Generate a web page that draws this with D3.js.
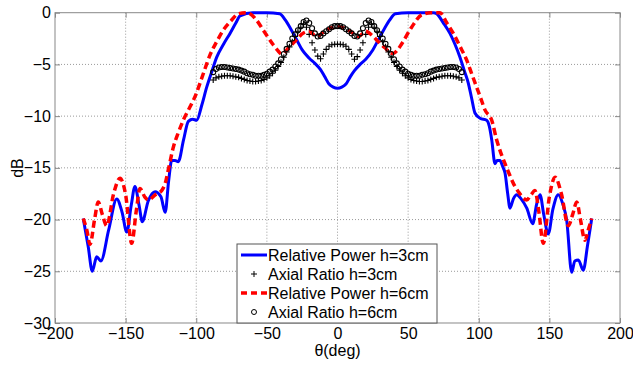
<!DOCTYPE html>
<html>
<head>
<meta charset="utf-8">
<script src="https://cdn.jsdelivr.net/npm/d3@7"></script>
<style>
  body { margin: 0; background: #fff; }
  svg text { font-family: "Liberation Sans", Arial, sans-serif; }
</style>
</head>
<body>
<script>
// values (theta in deg, level in dB)
var xTicks = [-200, -150, -100, -50, 0, 50, 100, 150, 200];
var yTicks = [0, -5, -10, -15, -20, -25, -30];

var seriesNames = ['Relative Power h=3cm', 'Axial Ratio h=3cm', 'Relative Power h=6cm', 'Axial Ratio h=6cm'];

var power3Theta = [-180, -176.5, -173.6, -170.5, -167.5, -162, -156.3, -152.5, -149.2, -146, -143.4, -140.5, -138.2, -134, -129.2, -125, -122, -119.5, -117.4, -115, -112.7, -109, -105.6, -102.5, -99.7, -96, -92.6, -89, -85.5, -80.5, -76.1, -72, -69, -60, -50, -41, -37, -33, -29, -25, -20, -16, -12, -9, -6, -3, 0,
  3, 6, 9, 12, 16, 20, 25, 29, 33, 37, 41, 50, 60, 68, 70.2, 75, 79.6, 83, 86.7, 90, 92.6, 95, 97.3, 100.9, 105.6, 107.5, 109.2, 111.5, 113, 115, 117, 118.6, 120.5, 122.1, 124.5, 126.9, 130, 134, 138.2, 141, 143.4, 146, 149.2, 152.5, 156.3, 159.5, 162.3, 165.8, 168, 170.5, 174, 177, 180];
var power3 = [-19.9, -22.6, -25.0, -23.6, -24.0, -21.0, -18.0, -19.3, -21.2, -18.6, -16.8, -18.6, -20.2, -18.2, -17.3, -17.8, -19.3, -16.2, -14.3, -14.3, -14.4, -12.3, -10.5, -10.3, -10.4, -8.9, -7.2, -5.7, -4.3, -3.0, -2.0, -1.0, -0.3, 0, 0, -0.1, -0.7, -1.6, -2.6, -3.6, -4.4, -4.9, -5.5, -6.2, -6.9, -7.2, -7.3,
  -7.2, -6.9, -6.2, -5.6, -5.0, -4.5, -3.6, -2.6, -1.6, -0.7, -0.1, 0, 0, 0, -0.1, -1.0, -2.0, -3.0, -4.3, -5.7, -6.8, -8.3, -9.7, -10.2, -10.4, -11.0, -12.3, -14.6, -14.3, -14.3, -14.9, -15.5, -17.5, -18.9, -18.0, -17.6, -18.0, -18.9, -20.4, -18.5, -17.6, -19.5, -21.4, -19.0, -17.6, -18.5, -20.1, -25.1, -24.0, -23.9, -24.9, -22.5, -19.9];

var power6Theta = [-180, -177.5, -175.2, -172, -169.4, -166.5, -163.4, -158.5, -154, -150, -145.7, -142.5, -139.8, -136.5, -134, -129, -124.5, -122, -119.8, -116.2, -112.7, -109.2, -104.4, -100.5, -97.3, -93.5, -90.3, -85.5, -80.9, -75.5, -70.2, -64.3, -58, -52.5, -45.5, -42, -39.5, -36, -32.5, -28.9, -24.5, -20, -15, -10, -5, 0,
  5, 10, 15, 20, 24.5, 28.9, 33.6, 36.5, 39.5, 42.5, 45.5, 52.5, 59.6, 66, 72.6, 77, 82, 86.5, 91.5, 95, 98.5, 101.5, 104.4, 109.2, 112.7, 115.5, 118.6, 121, 124.5, 128, 134, 137, 139.8, 142.5, 145.7, 150, 154, 158.5, 163.4, 166.5, 169.4, 172, 175.2, 177.5, 180];
var power6 = [-19.9, -21.0, -22.4, -20.0, -18.3, -19.5, -20.6, -17.5, -16.0, -17.6, -22.3, -19.2, -17.0, -17.8, -18.1, -17.6, -17.2, -16.5, -15.2, -13.0, -11.6, -10.4, -9.1, -8.0, -6.8, -5.3, -4.1, -2.8, -1.7, -0.8, -0.1, 0, -0.6, -1.7, -3.1, -3.7, -4.0, -3.6, -3.1, -2.6, -2.0, -1.8, -2.3, -1.9, -1.5, -1.35,
  -1.5, -1.9, -2.3, -1.8, -2.2, -2.8, -3.4, -3.8, -3.95, -3.6, -3.0, -1.4, -0.2, 0, 0, -0.9, -2.0, -3.2, -4.6, -5.9, -7.2, -8.3, -9.4, -10.4, -12.3, -13.5, -14.6, -15.4, -16.5, -17.3, -18.1, -17.6, -17.2, -19.2, -22.3, -17.8, -15.9, -17.5, -20.6, -19.5, -18.3, -20.0, -22.0, -21.0, -19.9];

var axialTheta = [-88, -86, -84, -82, -80, -78, -76, -74, -72, -70, -68, -66, -64, -62, -60, -58, -56, -54, -52, -50, -48, -46, -44, -42, -40, -38, -36, -34, -32, -30, -28, -26, -24, -22, -20, -18, -16, -14, -12, -10, -8, -6, -4, -2, 0,
  2, 4, 6, 8, 10, 12, 14, 16, 18, 20, 22, 24, 26, 28, 30, 32, 34, 36, 38, 40, 42, 44, 46, 48, 50, 52, 54, 56, 58, 60, 62, 64, 66, 68, 70, 72, 74, 76, 78, 80, 82, 84, 86, 88];
var axial3 = [-6.5, -6.3, -6.2, -6.15, -6.1, -6.1, -6.1, -6.15, -6.2, -6.25, -6.35, -6.45, -6.55, -6.6, -6.65, -6.65, -6.6, -6.55, -6.45, -6.3, -6.1, -5.85, -5.55, -5.2, -4.8, -4.3, -3.8, -3.3, -2.8, -2.3, -1.8, -1.4, -1.1, -1.4, -2.1, -2.9, -3.6, -4.2, -4.45, -4.0, -3.55, -3.25, -3.1, -3.05, -3.05,
  -3.05, -3.1, -3.25, -3.55, -4.0, -4.5, -4.25, -3.6, -2.9, -2.1, -1.4, -1.1, -1.4, -1.8, -2.3, -2.8, -3.3, -3.8, -4.3, -4.8, -5.2, -5.55, -5.85, -6.1, -6.3, -6.45, -6.55, -6.6, -6.65, -6.65, -6.6, -6.55, -6.45, -6.35, -6.25, -6.2, -6.15, -6.1, -6.1, -6.1, -6.15, -6.2, -6.3, -6.5];
var axial6 = [-5.75, -5.45, -5.3, -5.25, -5.25, -5.3, -5.35, -5.4, -5.45, -5.5, -5.6, -5.7, -5.85, -5.95, -6.0, -6.1, -6.1, -6.1, -6.0, -5.9, -5.7, -5.5, -5.2, -4.9, -4.5, -4.0, -3.5, -3.0, -2.5, -2.1, -1.7, -1.3, -0.9, -0.75, -1.0, -1.5, -2.0, -2.3, -2.25, -2.0, -1.8, -1.6, -1.4, -1.3, -1.3,
  -1.3, -1.4, -1.6, -1.8, -2.0, -2.25, -2.3, -2.0, -1.5, -1.0, -0.75, -0.9, -1.3, -1.7, -2.1, -2.5, -3.0, -3.5, -4.0, -4.5, -4.9, -5.2, -5.5, -5.7, -5.9, -6.0, -6.1, -6.1, -6.1, -6.0, -5.95, -5.85, -5.7, -5.6, -5.5, -5.45, -5.4, -5.35, -5.3, -5.25, -5.25, -5.3, -5.45, -5.75];

var width = 633, height = 365;
var margin = { left: 55, top: 12.7, right: 13, bottom: 42 };
var plotW = width - margin.left - margin.right;
var plotH = height - margin.top - margin.bottom;

var svg = d3.select('body')
  .append('svg')
  .attr('width', width)
  .attr('height', height);

var g = svg.append('g')
  .attr('transform', 'translate(' + margin.left + ',' + margin.top + ')');

var x = d3.scaleLinear().domain([-200, 200]).range([0, plotW]);
var y = d3.scaleLinear().domain([-30, 0]).range([plotH, 0]);

// dotted grid
g.selectAll('.vgrid')
  .data(xTicks.slice(1, -1))
  .enter().append('line')
  .attr('x1', function(d) { return x(d); })
  .attr('x2', function(d) { return x(d); })
  .attr('y1', 0).attr('y2', plotH)
  .attr('stroke', '#9a9a9a').attr('stroke-dasharray', '1,2');

g.selectAll('.hgrid')
  .data(yTicks.slice(1, -1))
  .enter().append('line')
  .attr('y1', function(d) { return y(d); })
  .attr('y2', function(d) { return y(d); })
  .attr('x1', 0).attr('x2', plotW)
  .attr('stroke', '#9a9a9a').attr('stroke-dasharray', '1,2');

// axes, ticks point inward
var xAxis = g.append('g')
  .attr('transform', 'translate(0,' + plotH + ')')
  .call(d3.axisBottom(x).tickValues(xTicks).tickSizeInner(-5).tickSizeOuter(0).tickPadding(5));
var xTop = g.append('g')
  .call(d3.axisTop(x).tickValues(xTicks).tickSizeInner(-5).tickSizeOuter(0).tickFormat(''));
var yAxis = g.append('g')
  .call(d3.axisLeft(y).tickValues(yTicks).tickSizeInner(-5).tickSizeOuter(0).tickPadding(4));
var yRight = g.append('g')
  .attr('transform', 'translate(' + plotW + ',0)')
  .call(d3.axisRight(y).tickValues(yTicks).tickSizeInner(-5).tickSizeOuter(0).tickFormat(''));

[xAxis, xTop, yAxis, yRight].forEach(function(a) {
  a.select('.domain').remove();
  a.selectAll('.tick line').attr('stroke', '#888');
  a.selectAll('.tick text').attr('font-size', 16).attr('fill', '#000');
});

g.append('rect')
  .attr('width', plotW).attr('height', plotH)
  .attr('fill', 'none').attr('stroke', '#888');

// curves
var line = d3.line()
  .x(function(d) { return x(d[0]); })
  .y(function(d) { return y(d[1]); })
  .curve(d3.curveMonotoneX);

function pairs(t, v) {
  return t.map(function(d, i) { return [d, v[i]]; });
}

var plusPath = 'M-3,0H3M0,-3V3';

g.append('path')
  .datum(pairs(power3Theta, power3))
  .attr('d', line)
  .attr('fill', 'none').attr('stroke', '#0000ff').attr('stroke-width', 3);

g.selectAll('.plus')
  .data(pairs(axialTheta, axial3))
  .enter().append('path')
  .attr('d', plusPath)
  .attr('transform', function(d) { return 'translate(' + x(d[0]) + ',' + y(d[1]) + ')'; })
  .attr('stroke', '#000').attr('stroke-width', 1.1);

g.append('path')
  .datum(pairs(power6Theta, power6))
  .attr('d', line)
  .attr('fill', 'none').attr('stroke', '#ff0000').attr('stroke-width', 3.5)
  .attr('stroke-dasharray', '7,4');

g.selectAll('.circ')
  .data(pairs(axialTheta, axial6))
  .enter().append('circle')
  .attr('cx', function(d) { return x(d[0]); })
  .attr('cy', function(d) { return y(d[1]); })
  .attr('r', 2.5)
  .attr('fill', 'none').attr('stroke', '#000').attr('stroke-width', 1.1);

// labels
svg.append('text')
  .attr('x', margin.left + x(0)).attr('y', 356)
  .attr('text-anchor', 'middle').attr('font-size', 16)
  .text('\u03b8(deg)');

svg.append('text')
  .attr('transform', 'translate(23,168) rotate(-90)')
  .attr('text-anchor', 'middle').attr('font-size', 16)
  .text('dB');

// legend
var legend = svg.append('g').attr('transform', 'translate(237,244)');
legend.append('rect')
  .attr('width', 200).attr('height', 79)
  .attr('fill', '#fff').attr('stroke', '#555');

var rows = legend.selectAll('.row')
  .data(seriesNames)
  .enter().append('g')
  .attr('transform', function(d, i) { return 'translate(0,' + (11 + i * 19) + ')'; });

rows.append('text')
  .attr('x', 31).attr('dy', '0.35em').attr('font-size', 16)
  .text(function(d) { return d; });

rows.filter(function(d, i) { return i === 0; }).append('line')
  .attr('x1', 4).attr('x2', 30).attr('stroke', '#0000ff').attr('stroke-width', 3);
rows.filter(function(d, i) { return i === 2; }).append('line')
  .attr('x1', 4).attr('x2', 30).attr('stroke', '#ff0000').attr('stroke-width', 3.5)
  .attr('stroke-dasharray', '6,4');
rows.filter(function(d, i) { return i === 1; }).append('path')
  .attr('d', plusPath).attr('transform', 'translate(17,0)')
  .attr('stroke', '#000');
rows.filter(function(d, i) { return i === 3; }).append('circle')
  .attr('cx', 17).attr('r', 2.5)
  .attr('fill', 'none').attr('stroke', '#000');
</script>
</body>
</html>
